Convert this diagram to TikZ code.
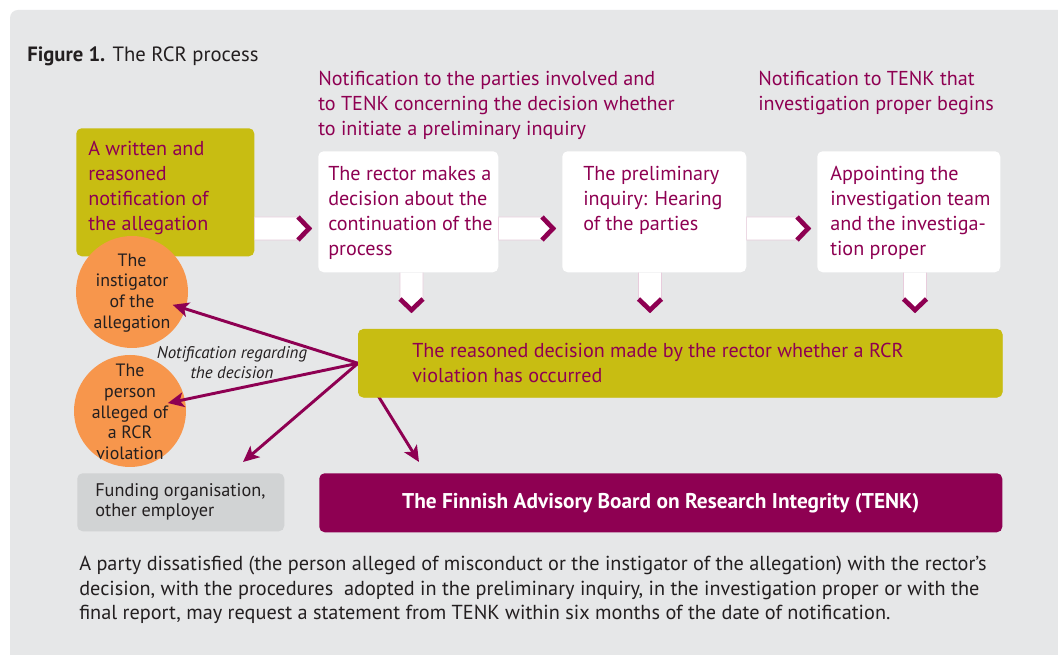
\documentclass[tikz,border=0pt]{standalone}
\usepackage{fontspec}
\setmainfont{PT Sans}
\usepackage{tikz}
\usetikzlibrary{arrows.meta, calc}
\definecolor{rcrmagenta}{RGB}{142, 0, 82}
\definecolor{rcryellow}{RGB}{200, 189, 18}
\definecolor{rcrorange}{RGB}{247, 150, 76}
\definecolor{panelgray}{RGB}{230, 231, 232}
\definecolor{fundgray}{RGB}{209, 211, 212}
\definecolor{rcrtext}{RGB}{35, 31, 32}

\begin{document}
\begin{tikzpicture}[x=0.75pt, y=-0.75pt,
    box/.style={rounded corners=4pt, inner sep=0pt, anchor=north west},
    whitebox/.style={box, fill=white},
    yellowbox/.style={box, fill=rcryellow},
    txt/.style={inner sep=0pt, anchor=base west, align=left, font=\fontsize{15.1}{18.75}\selectfont},
    hitxt/.style={txt, text=rcrmagenta},
    person/.style={circle, fill=rcrorange, minimum size=84pt, inner sep=0pt},
    persontxt/.style={inner sep=0pt, align=center, text=rcrtext, font=\fontsize{13.4}{15.6}\selectfont},
    band/.style={fill=white, draw=rcrmagenta!20, line width=0.4pt},
    chev/.style={rcrmagenta, line width=3.5pt},
    link/.style={rcrmagenta, line width=2.2pt, -{Stealth[length=12pt, width=11pt, inset=3pt]}}]
    \useasboundingbox (0,0) rectangle (1058,655);
    \fill[white] (0,0) rectangle (1058,655);
    \fill[panelgray, rounded corners=6pt] (10,10) rectangle (1075,670);

    % title and the two notifications (base = last line)
    \node[txt, text=rcrtext, font=\fontsize{15.5}{18}\selectfont] (title) at (27,62) {\textbf{Figure 1.} The RCR process};
    \node[hitxt] (note1) at (318,136) {Notification to the parties involved and\\to TENK concerning the decision whether\\to initiate a preliminary inquiry};
    \node[hitxt] (note2) at (758,111) {Notification to TENK that\\investigation proper begins};

    % first row
    \node[yellowbox, minimum width=133.5pt, minimum height=96pt] (alleg) at (76,128) {};
    \node[whitebox, minimum width=135pt, minimum height=90.75pt] (boxA) at (318,151) {};
    \node[whitebox, minimum width=138pt, minimum height=90.75pt] (boxB) at (562,151) {};
    \node[whitebox, minimum width=137.25pt, minimum height=90.75pt] (boxC) at (817,151) {};

    % white bands with chevrons
    \foreach \from/\to in {alleg/boxA, boxA/boxB, boxB/boxC} {
        \path[band] (\from.east |- 0,217) -- ($(\to.west |- 0,217)+(-19,0)$)
            -- ($(\to.west |- 0,228.5)+(-8,0)$) -- ($(\to.west |- 0,240)+(-19,0)$)
            -- (\from.east |- 0,240) -- cycle;
        \draw[chev] ($(\to.west |- 0,217)+(-20,0)$) -- ($(\to.west |- 0,228.5)+(-9,0)$)
            -- ($(\to.west |- 0,240)+(-20,0)$);
    }
    \foreach \bx/\bn in {411.5/boxA, 650/boxB, 915/boxC} {
        \path[band] (\bx-11.5,0 |- \bn.south) -- (\bx-11.5,298) -- (\bx,309)
            -- (\bx+11.5,298) -- (\bx+11.5,0 |- \bn.south);
        \draw[chev] (\bx-11.5,299) -- (\bx,310) -- (\bx+11.5,299);
    }

    % the parties
    \node[person] (inst) at (132,292) {};
    \node[person] (pers) at (130,411) {};
    \node[persontxt] (insttxt) at (132,293) {The\\instigator\\of the\\allegation};
    \node[persontxt] (perstxt) at (130,412) {The\\person\\alleged of\\a RCR\\violation};

    % notifications of the decision
    \node[box, fill=rcryellow, minimum width=483pt, minimum height=51pt] (decision) at (358,329) {};
    \coordinate (fundtip) at (243,462);
    \coordinate (tenktip) at (419,462);
    \draw[link, shorten >=32pt] (decision.west) -- (inst.center);
    \draw[link, shorten >=29pt] (decision.west) -- (pers.center);
    \draw[link] (decision.west) -- (fundtip);
    \draw[link] (decision.west) -- (tenktip);
    \fill[rcryellow, rounded corners=4pt] (decision.north west) rectangle (decision.south east);
    \node[inner sep=0pt, align=center, text=rcrtext, font=\fontsize{12.7}{15}\selectfont\itshape] (notelabel) at (232,363) {Notification regarding\\the decision};

    % bottom row
    \node[box, fill=fundgray, minimum width=155.25pt, minimum height=43.5pt] (fund) at (77,473) {};
    \node[box, fill=rcrmagenta, minimum width=512.25pt, minimum height=44.25pt] (tenk) at (319,473) {};
    \node[text=white, font=\fontsize{16}{18}\selectfont\bfseries] (tenktxt) at (tenk) {The Finnish Advisory Board on Research Integrity (TENK)};

    % box texts
    \node[hitxt] (alltxt) at (88,231) {A written and\\reasoned\\notification of\\the allegation};
    \node[hitxt] (atxt) at (328,256) {The rector makes a\\decision about the\\continuation of the\\process};
    \node[hitxt] (btxt) at (583,231) {The preliminary\\inquiry: Hearing\\of the parties};
    \node[hitxt] (ctxt) at (830,256) {Appointing the\\investigation team\\and the investiga-\\tion proper};
    \node[hitxt] (dtxt) at (412,383) {The reasoned decision made by the rector whether a RCR\\violation has occurred};
    \node[txt, text=rcrtext, font=\fontsize{13.7}{15}\selectfont] (fundtxt) at (95,517) {Funding organisation,\\other employer};
    \node[txt, text=rcrtext, font=\fontsize{15.2}{18.4}\selectfont] (para) at (79,620) {A party dissatisfied (the person alleged of misconduct or the instigator of the allegation) with the rector's\\decision, with the procedures\ \ adopted in the preliminary inquiry, in the investigation proper or with the\\final report, may request a statement from TENK within six months of the date of notification.};
\end{tikzpicture}
\end{document}
